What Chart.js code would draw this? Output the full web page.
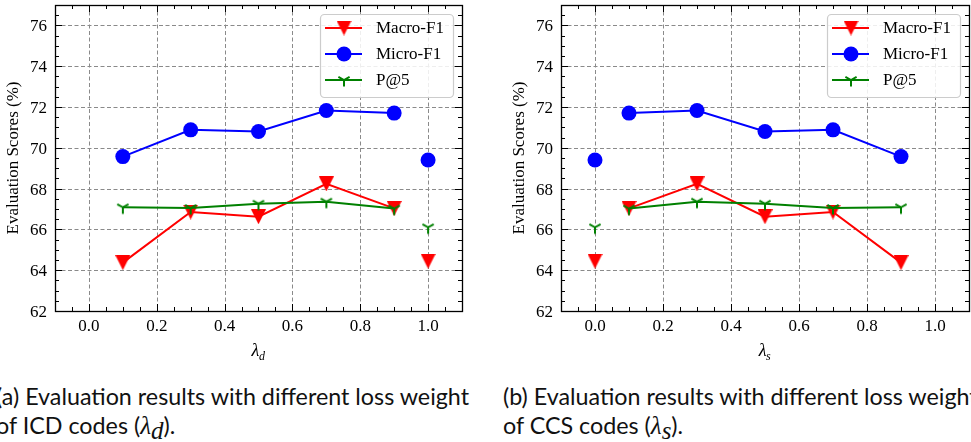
<!DOCTYPE html>
<html>
<head>
<meta charset="utf-8">
<script src="https://cdn.jsdelivr.net/npm/chart.js@4.4.0/dist/chart.umd.min.js"></script>
<style>
  html, body { margin: 0; padding: 0; background: #fff; }
  body { width: 971px; height: 442px; position: relative; overflow: hidden; }
  canvas { position: absolute; top: 0; }
  .cap {
    position: absolute; top: 382px; white-space: nowrap;
    font-family: Lato, "Open Sans", sans-serif; font-size: 23.3px; line-height: 29px; color: #111;
  }
  .cap i { font-family: "Liberation Serif", serif; font-size: 25px; }
  .cap sub { font-size: 17px; vertical-align: -5px; line-height: 0; }
</style>
</head>
<body>
<canvas id="chartD" width="480" height="360" style="left:0px"></canvas>
<canvas id="chartS" width="465" height="360" style="left:506px"></canvas>
<div class="cap" style="left:-4px">(a) Evaluation results with different loss weight<br>of ICD codes (<i>λ</i><sub><i>d</i></sub>).</div>
<div class="cap" style="left:503px">(b) Evaluation results with different loss weight<br>of CCS codes (<i>λ</i><sub><i>s</i></sub>).</div>
<script>
// data
const lambdaD = [0.1, 0.3, 0.5, 0.7, 0.9, 1.0];
const macroD = [64.37, 66.85, 66.62, 68.23, 67.03, 64.44];
const microD = [69.57, 70.88, 70.80, 71.83, 71.70, 69.40];
const p5D = [67.08, 67.05, 67.26, 67.36, 67.02, 66.10];

const lambdaS = [0.0, 0.1, 0.3, 0.5, 0.7, 0.9];
const macroS = [64.44, 67.03, 68.23, 66.62, 66.85, 64.37];
const microS = [69.40, 71.70, 71.83, 70.80, 70.88, 69.57];
const p5S = [66.10, 67.02, 67.36, 67.26, 67.05, 67.08];

const seriesNames = ['Macro-F1', 'Micro-F1', 'P@5'];
const xTicks = [0.0, 0.2, 0.4, 0.6, 0.8, 1.0];
const yTicks = [62, 64, 66, 68, 70, 72, 74, 76];
const yTitle = 'Evaluation Scores (%)';

const RED = '#ff0000', BLUE = '#0000ff', GREEN = '#008000';
const SERIF = '"Liberation Serif", "DejaVu Serif", serif';

// marker images (matplotlib 'v' and '1')
function makeTri(color) {
    const c = document.createElement('canvas');
    c.width = 15; c.height = 15;
    const g = c.getContext('2d');
    g.fillStyle = color;
    g.beginPath();
    g.moveTo(0, 0); g.lineTo(15, 0); g.lineTo(7.5, 15); g.closePath();
    g.fill();
    return c;
}
function makeY(color) {
    const c = document.createElement('canvas');
    c.width = 16; c.height = 16;
    const g = c.getContext('2d');
    g.strokeStyle = color; g.lineWidth = 2;
    g.beginPath();
    g.moveTo(8, 8); g.lineTo(8, 14.5);
    g.moveTo(8, 8); g.lineTo(8 - 5.6, 4.8);
    g.moveTo(8, 8); g.lineTo(8 + 5.6, 4.8);
    g.stroke();
    return c;
}
const triImg = makeTri(RED);
const yImg = makeY(GREEN);

function pts(xs, ys) { return xs.map((x, i) => ({ x: x, y: ys[i] })); }

function hideSeg(iso, color) {
    return ctx => (ctx.p0DataIndex === iso || ctx.p1DataIndex === iso) ? 'rgba(0,0,0,0)' : color;
}

// grid, inward ticks, labels, frame, titles, legend
const decorPlugin = {
    id: 'decor',
    beforeDatasetsDraw(chart) {
        const { ctx, chartArea: a, scales } = chart;
        ctx.save();
        ctx.strokeStyle = '#8a8a8a';
        ctx.lineWidth = 1;
        ctx.setLineDash([4, 2.5]);
        xTicks.forEach(v => {
            const px = Math.round(scales.x.getPixelForValue(v)) + 0.5;
            ctx.beginPath(); ctx.moveTo(px, a.top); ctx.lineTo(px, a.bottom); ctx.stroke();
        });
        yTicks.forEach(v => {
            const py = Math.round(scales.y.getPixelForValue(v)) + 0.5;
            ctx.beginPath(); ctx.moveTo(a.left, py); ctx.lineTo(a.right, py); ctx.stroke();
        });
        ctx.restore();
    },
    afterDatasetsDraw(chart, args, opts) {
        const { ctx, chartArea: a, scales } = chart;
        ctx.save();
        ctx.strokeStyle = '#000';
        ctx.lineWidth = 1;
        ctx.setLineDash([]);
        // minor + major ticks on all four sides
        for (let k = -2; k <= 22; k++) {
            const v = k * 0.05;
            if (v < -0.1 + 1e-9 || v > 1.1 - 1e-9) continue;
            const major = k % 4 === 0;
            const len = major ? 7 : 4;
            const px = Math.round(scales.x.getPixelForValue(v)) + 0.5;
            ctx.beginPath();
            ctx.moveTo(px, a.bottom); ctx.lineTo(px, a.bottom - len);
            ctx.moveTo(px, a.top); ctx.lineTo(px, a.top + len);
            ctx.stroke();
        }
        for (let k = 1; k < 30; k++) {
            const v = 62 + k * 0.5;
            if (v >= 77) continue;
            const major = k % 4 === 0;
            const len = major ? 7 : 4;
            const py = Math.round(scales.y.getPixelForValue(v)) + 0.5;
            ctx.beginPath();
            ctx.moveTo(a.left, py); ctx.lineTo(a.left + len, py);
            ctx.moveTo(a.right, py); ctx.lineTo(a.right - len, py);
            ctx.stroke();
        }
        ctx.lineWidth = 1.3;
        ctx.strokeRect(Math.round(a.left) + 0.5, Math.round(a.top) + 0.5,
            Math.round(a.right - a.left), Math.round(a.bottom - a.top));

        // tick labels
        ctx.fillStyle = '#000';
        ctx.font = '17px ' + SERIF;
        ctx.textBaseline = 'alphabetic';
        ctx.textAlign = 'center';
        xTicks.forEach(v => {
            ctx.fillText(v.toFixed(1), scales.x.getPixelForValue(v), a.bottom + 20);
        });
        ctx.textAlign = 'right';
        yTicks.forEach(v => {
            ctx.fillText(String(v), a.left - 8, scales.y.getPixelForValue(v) + 6);
        });

        // y axis title
        ctx.save();
        ctx.translate(18, (a.top + a.bottom) / 2);
        ctx.rotate(-Math.PI / 2);
        ctx.textAlign = 'center';
        ctx.fillText(yTitle, 0, 0);
        ctx.restore();

        // x axis title with subscript
        ctx.textAlign = 'left';
        const cx = (a.left + a.right) / 2;
        ctx.font = 'italic 18px ' + SERIF;
        const w1 = ctx.measureText('λ').width;
        ctx.font = 'italic 12px ' + SERIF;
        const w2 = ctx.measureText(opts.sub).width;
        const x0 = cx - (w1 + w2) / 2;
        ctx.font = 'italic 18px ' + SERIF;
        ctx.fillText('λ', x0, a.bottom + 45);
        ctx.font = 'italic 12px ' + SERIF;
        ctx.fillText(opts.sub, x0 + w1 - 0.5, a.bottom + 49);

        // legend
        const bw = 133, bh = 83;
        const bx = a.right - 9 - bw, by = a.top + 9;
        ctx.beginPath();
        ctx.roundRect(bx + 0.5, by + 0.5, bw, bh, 4);
        ctx.fillStyle = 'rgba(255,255,255,0.85)';
        ctx.fill();
        ctx.strokeStyle = '#cccccc';
        ctx.lineWidth = 1.2;
        ctx.stroke();
        const colors = [RED, BLUE, GREEN];
        seriesNames.forEach((name, i) => {
            const ry = by + 14 + i * 26;
            ctx.strokeStyle = colors[i];
            ctx.lineWidth = 2;
            ctx.beginPath(); ctx.moveTo(bx + 5, ry); ctx.lineTo(bx + 42, ry); ctx.stroke();
            const mx = bx + 24;
            if (i === 0) ctx.drawImage(triImg, mx - 7.5, ry - 7.5);
            if (i === 1) { ctx.fillStyle = BLUE; ctx.beginPath(); ctx.arc(mx, ry, 7.5, 0, Math.PI * 2); ctx.fill(); }
            if (i === 2) ctx.drawImage(yImg, mx - 8, ry - 8);
            ctx.fillStyle = '#000';
            ctx.font = '17px ' + SERIF;
            ctx.textBaseline = 'middle';
            ctx.fillText(name, bx + 56, ry + 1);
        });
        ctx.restore();
    }
};

function makeChart(id, xs, macro, micro, p5, iso, sub, padRight) {
    const ctx = document.getElementById(id).getContext('2d');
    return new Chart(ctx, {
        type: 'line',
        data: {
            datasets: [
                {
                    label: seriesNames[0], data: pts(xs, macro), order: 2,
                    borderColor: RED, borderWidth: 2,
                    pointStyle: triImg, pointRadius: 7.5,
                    segment: { borderColor: hideSeg(iso, RED) }
                },
                {
                    label: seriesNames[1], data: pts(xs, micro), order: 1,
                    borderColor: BLUE, borderWidth: 2,
                    pointStyle: 'circle', pointRadius: 7.5, pointBackgroundColor: BLUE, pointBorderWidth: 0,
                    segment: { borderColor: hideSeg(iso, BLUE) }
                },
                {
                    label: seriesNames[2], data: pts(xs, p5), order: 0,
                    borderColor: GREEN, borderWidth: 2,
                    pointStyle: yImg, pointRadius: 8,
                    segment: { borderColor: hideSeg(iso, GREEN) }
                }
            ]
        },
        options: {
            responsive: false,
            animation: false,
            devicePixelRatio: 1,
            layout: { autoPadding: false, padding: { top: 5, right: padRight, left: 0, bottom: 0 } },
            plugins: {
                legend: { display: false },
                tooltip: { enabled: false },
                decor: { sub: sub }
            },
            scales: {
                x: {
                    type: 'linear', min: -0.1, max: 1.1,
                    afterBuildTicks: s => { s.ticks = xTicks.map(v => ({ value: v })); },
                    afterFit: s => { s.height = 49; },
                    grid: { display: false, drawTicks: false },
                    border: { display: false },
                    ticks: { display: false }
                },
                y: {
                    min: 62, max: 77,
                    afterBuildTicks: s => { s.ticks = yTicks.map(v => ({ value: v })); },
                    afterFit: s => { s.width = 55; },
                    grid: { display: false, drawTicks: false },
                    border: { display: false },
                    ticks: { display: false }
                }
            }
        },
        plugins: [decorPlugin]
    });
}

makeChart('chartD', lambdaD, macroD, microD, p5D, 5, 'd', 18);
makeChart('chartS', lambdaS, macroS, microS, p5S, 0, 's', 2);
</script>
</body>
</html>
